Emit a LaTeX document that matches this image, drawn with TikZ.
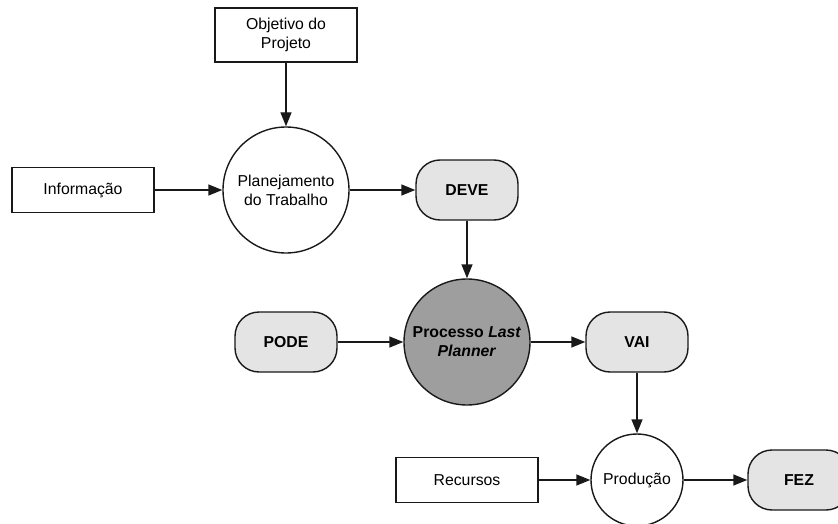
\documentclass[tikz,border=0pt]{standalone}
\usepackage{fontspec}
\setmainfont{Liberation Sans}
\usetikzlibrary{arrows.meta,positioning}
\definecolor{termCol}{RGB}{228,228,228}
\definecolor{lpCol}{RGB}{158,158,158}
\definecolor{lineCol}{RGB}{25,25,25}
\tikzset{
  base/.style={draw=lineCol,line width=1.4pt,align=center,inner sep=2pt,
               font=\fontsize{15.8}{19}\selectfont},
  caixa/.style={base,minimum width=142pt,minimum height=45pt},
  term/.style={base,rounded corners=24pt,fill=termCol,minimum width=102pt,
               minimum height=60pt,font=\fontsize{15.8}{19}\selectfont\bfseries},
  proc/.style={base,circle,fill=white,minimum size=126pt},
  flow/.style={-{Triangle[length=14pt,width=11pt]},line width=1.4pt,draw=lineCol},
}
\begin{document}
\begin{tikzpicture}[x=1pt,y=-1pt]
  \useasboundingbox (0,0) rectangle (838,524);
  % entradas
  \node[caixa,minimum height=54pt] (obj) at (286,35) {Objetivo do\\Projeto};
  \node[caixa] (inf) at (83,190) {Informação};
  \node[caixa] (rec) at (467,480) {Recursos};
  % processos
  \node[proc] (plan) at (286,190) {Planejamento\\do Trabalho};
  \node[proc,fill=lpCol,font=\fontsize{15.8}{19}\selectfont\bfseries] (lp) at (467,342)
       {Processo \textit{Last}\\\textit{Planner}};
  \node[proc,minimum size=92pt] (prod) at (637,480) {Produção};
  % estados
  \node[term] (deve) at (467,190) {DEVE};
  \node[term] (pode) at (286,342) {PODE};
  \node[term] (vai) at (637,342) {VAI};
  \node[term] (fez) at (799,480) {FEZ};
  % ligacoes
  \draw[flow] (obj) -- (plan);
  \draw[flow] (inf) -- (plan);
  \draw[flow] (plan) -- (deve);
  \draw[flow] (deve) -- (lp);
  \draw[flow] (pode) -- (lp);
  \draw[flow] (lp) -- (vai);
  \draw[flow] (vai) -- (prod);
  \draw[flow] (rec) -- (prod);
  \draw[flow] (prod) -- (fez);
\end{tikzpicture}
\end{document}
